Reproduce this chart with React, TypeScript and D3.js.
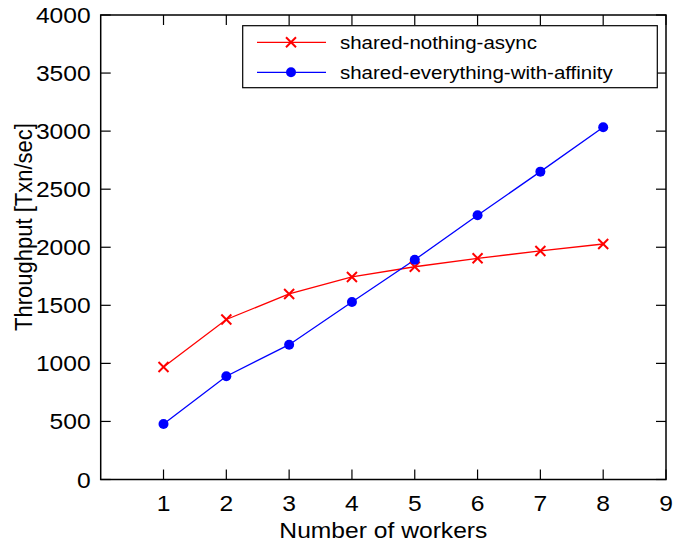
import React from "react";
import * as d3 from "d3";

const workers = [1, 2, 3, 4, 5, 6, 7, 8];
const sharedNothingAsync = [969, 1378, 1598, 1744, 1832, 1905, 1968, 2028];
const sharedEverythingAffinity = [478, 889, 1161, 1529, 1892, 2275, 2651, 3033];
const xTicks = [1, 2, 3, 4, 5, 6, 7, 8, 9];
const yTicks = [0, 500, 1000, 1500, 2000, 2500, 3000, 3500, 4000];
const seriesNames = ["shared-nothing-async", "shared-everything-with-affinity"];

const W = 674, H = 546;
const L = 100.7, R = 666, T = 15, B = 479.5;
const SX = 1.12;
const FONT = "Arial, 'Liberation Sans', sans-serif";

function XMark({ cx, cy, color }: { cx: number; cy: number; color: string }) {
  const s = 5;
  return (
    <g stroke={color} strokeWidth={2}>
      <line x1={cx - s} y1={cy - s} x2={cx + s} y2={cy + s} />
      <line x1={cx - s} y1={cy + s} x2={cx + s} y2={cy - s} />
    </g>
  );
}

function Txt({ x, y, size, anchor, children, rotate }: any) {
  return (
    <text
      transform={`translate(${x},${y}) scale(${SX},1)${rotate ? ` rotate(${rotate})` : ""}`}
      fontSize={size}
      fontFamily={FONT}
      textAnchor={anchor || "start"}
      fill="#000"
    >
      {children}
    </text>
  );
}

export default function App() {
  const x = d3.scaleLinear().domain([0, 9]).range([L, R]);
  const y = d3.scaleLinear().domain([0, 4000]).range([B, T]);
  const line = d3
    .line<number>()
    .x((_, i) => x(workers[i]))
    .y((d) => y(d));
  const red = "#ff0000";
  const blue = "#0000ff";
  const tl = 10;

  return (
    <svg
      width={W}
      height={H}
      style={{ position: "absolute", left: 0, top: 0, background: "#fff" }}
    >
      <rect x={0} y={0} width={W} height={H} fill="#fff" />
      {/* ticks */}
      <g stroke="#000" strokeWidth={1.2}>
        {xTicks.map((t) => (
          <g key={"xt" + t}>
            <line x1={x(t)} x2={x(t)} y1={B} y2={B - tl} />
            <line x1={x(t)} x2={x(t)} y1={T} y2={T + tl} />
          </g>
        ))}
        {yTicks.map((t) => (
          <g key={"yt" + t}>
            <line x1={L} x2={L + tl} y1={y(t)} y2={y(t)} />
            <line x1={R} x2={R - tl} y1={y(t)} y2={y(t)} />
          </g>
        ))}
      </g>
      <rect x={L} y={T} width={R - L} height={B - T} fill="none" stroke="#000" strokeWidth={1.5} />
      {xTicks.map((t) => (
        <Txt key={"xl" + t} x={x(t)} y={B + 31} size={22} anchor="middle">
          {t}
        </Txt>
      ))}
      {yTicks.map((t) => (
        <Txt key={"yl" + t} x={L - 10} y={y(t) + 8} size={22} anchor="end">
          {t}
        </Txt>
      ))}
      <Txt x={(L + R) / 2 + 0} y={538} size={22} anchor="middle">
        Number of workers
      </Txt>
      <Txt x={32} y={227} size={22} anchor="middle" rotate={-90}>
        Throughput [Txn/sec]
      </Txt>

      {/* series */}
      <path d={line(sharedNothingAsync) || ""} fill="none" stroke={red} strokeWidth={1.3} />
      <path d={line(sharedEverythingAffinity) || ""} fill="none" stroke={blue} strokeWidth={1.3} />
      {sharedNothingAsync.map((v, i) => (
        <XMark key={"r" + i} cx={x(workers[i])} cy={y(v)} color={red} />
      ))}
      {sharedEverythingAffinity.map((v, i) => (
        <circle key={"b" + i} cx={x(workers[i])} cy={y(v)} r={5} fill={blue} />
      ))}

      {/* legend */}
      <rect x={242.7} y={25.7} width={414.6} height={62} fill="#fff" stroke="#000" strokeWidth={1.2} />
      <line x1={257} x2={326} y1={42.3} y2={42.3} stroke={red} strokeWidth={1.3} />
      <XMark cx={291} cy={42.3} color={red} />
      <Txt x={340} y={48.5} size={18.3}>
        {seriesNames[0]}
      </Txt>
      <line x1={257} x2={326} y1={72.3} y2={72.3} stroke={blue} strokeWidth={1.3} />
      <circle cx={291} cy={72.3} r={5} fill={blue} />
      <Txt x={340} y={78.5} size={18.3}>
        {seriesNames[1]}
      </Txt>
    </svg>
  );
}
